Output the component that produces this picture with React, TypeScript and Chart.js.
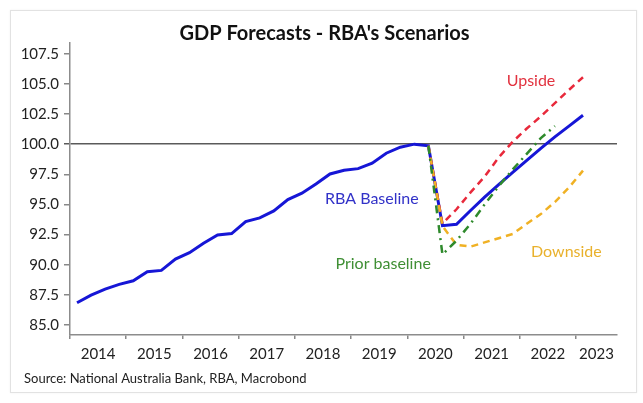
import React, { useEffect, useRef } from "react";
import { Chart, registerables } from "chart.js";

Chart.register(...registerables);

// ---- Data ----
const START_YEAR = 2014; // first quarter plotted: 2014 Q1
const rbaBaseline = [
  86.84, 87.48, 87.98, 88.37, 88.67, 89.42, 89.53, 90.47, 91.0, 91.78,
  92.47, 92.58, 93.57, 93.88, 94.46, 95.4, 95.93, 96.7, 97.53, 97.84,
  97.97, 98.42, 99.25, 99.75, 100.0, 99.86, 93.24, 93.36, 94.5, 95.6,
  96.65, 97.65, 98.65, 99.65, 100.6, 101.5, 102.4,
];
const SCENARIO_START = 25; // quarter index where scenarios branch off
const upside = [99.86, 93.4, 94.6, 96.0, 97.3, 98.9, 100.2, 101.3, 102.3, 103.4, 104.5, 105.55];
const priorBaseline = [99.86, 90.85, 92.0, 93.4, 95.0, 96.5, 97.9, 99.2, 100.5, 101.5];
const downside = [99.86, 93.2, 91.65, 91.5, 91.85, 92.2, 92.55, 93.4, 94.2, 95.2, 96.4, 97.8];

const yearLabels = ["2014", "2015", "2016", "2017", "2018", "2019", "2020", "2021", "2022", "2023"];
const yTicks = [85, 87.5, 90, 92.5, 95, 97.5, 100, 102.5, 105, 107.5];
const REF_LEVEL = 100;

const X_MIN = 2014;
const X_MAX = 2023.73;
const Y_MIN = 84.17;
const Y_MAX = 108.39;

const annotations = [
  { text: "Upside", x: 2022.2, y: 105.26, color: "#e2323f" },
  { text: "RBA Baseline", x: 2019.37, y: 95.46, color: "#3232c8" },
  { text: "Prior baseline", x: 2019.57, y: 90.06, color: "#3f8f34" },
  { text: "Downside", x: 2022.83, y: 91.06, color: "#e9b12c" },
];

const TITLE = "GDP Forecasts - RBA's Scenarios";
const SOURCE = "Source: National Australia Bank, RBA, Macrobond";

// quarter index -> decimal year at mid-quarter
const qx = (i: number) => START_YEAR + 0.125 + 0.25 * i;
const toPoints = (vals: number[], offset: number) =>
  vals.map((v, k) => ({ x: qx(offset + k), y: v }));

const yearTickValues = yearLabels.map((y) => Number(y));
const labelPositions = yearTickValues.map((y) =>
  y + 1 <= X_MAX ? y + 0.5 : (y + X_MAX) / 2
);

const FONT = "Lato, 'Open Sans', sans-serif";

const textPlugin = {
  id: "textPlugin",
  afterDraw(chart: any) {
    const { ctx, scales } = chart;
    ctx.save();
    // title
    ctx.fillStyle = "#111";
    ctx.font = `bold 20px ${FONT}`;
    ctx.textAlign = "center";
    ctx.textBaseline = "alphabetic";
    ctx.fillText(TITLE, 324.5, 40);
    // source
    ctx.fillStyle = "#222";
    ctx.font = `13px ${FONT}`;
    ctx.textAlign = "left";
    ctx.fillText(SOURCE, 24, 383);
    // annotations
    ctx.font = `16px ${FONT}`;
    ctx.textAlign = "center";
    ctx.textBaseline = "middle";
    for (const a of annotations) {
      ctx.fillStyle = a.color;
      ctx.fillText(a.text, scales.x.getPixelForValue(a.x), scales.y.getPixelForValue(a.y));
    }
    ctx.restore();
  },
};

export default function App() {
  const ref = useRef<HTMLCanvasElement | null>(null);

  useEffect(() => {
    if (!ref.current) return;
    const transparent = "rgba(0,0,0,0)";
    const chart = new Chart(ref.current, {
      type: "line",
      data: {
        datasets: [
          {
            label: "Prior baseline",
            data: toPoints(priorBaseline, SCENARIO_START),
            borderColor: "#2f8a2c",
            borderWidth: 2.5,
            borderDash: [8, 5, 2, 5],
            pointRadius: 0,
            fill: false,
          },
          {
            label: "Downside",
            data: toPoints(downside, SCENARIO_START),
            borderColor: "#f0b124",
            borderWidth: 2.5,
            borderDash: [7, 5],
            pointRadius: 0,
            fill: false,
          },
          {
            label: "Upside",
            data: toPoints(upside, SCENARIO_START),
            borderColor: "#e8293b",
            borderWidth: 2.5,
            borderDash: [7, 5],
            pointRadius: 0,
            fill: false,
          },
          {
            label: "RBA Baseline",
            data: toPoints(rbaBaseline, 0),
            borderColor: "#1616d6",
            borderWidth: 3,
            pointRadius: 0,
            fill: false,
          },
        ],
      },
      options: {
        responsive: false,
        animation: false,
        events: [],
        layout: { padding: { top: 43, right: 26, left: 0, bottom: 0 } },
        plugins: {
          legend: { display: false },
          tooltip: { enabled: false },
          title: { display: false },
        },
        scales: {
          x: {
            type: "linear",
            min: X_MIN,
            max: X_MAX,
            afterBuildTicks: (scale: any) => {
              const vals = [...yearTickValues, ...labelPositions].sort((a, b) => a - b);
              scale.ticks = vals.map((v) => ({ value: v }));
            },
            afterFit: (scale: any) => {
              scale.height = 68;
            },
            ticks: {
              autoSkip: false,
              maxRotation: 0,
              padding: 6,
              color: "#222",
              font: { family: FONT, size: 15 },
              callback: (value: any) => {
                const idx = labelPositions.findIndex((p) => Math.abs(p - Number(value)) < 1e-6);
                return idx >= 0 ? yearLabels[idx] : "";
              },
            },
            grid: {
              drawOnChartArea: false,
              tickLength: 4,
              lineWidth: 1.5,
              color: (ctx: any) =>
                ctx.tick && Number.isInteger(ctx.tick.value) ? "#888" : transparent,
              tickColor: (ctx: any) =>
                ctx.tick && Number.isInteger(ctx.tick.value) ? "#888" : transparent,
            },
            border: { display: true, color: "#8c8c8c", width: 1.5 },
          },
          y: {
            type: "linear",
            min: Y_MIN,
            max: Y_MAX,
            afterBuildTicks: (scale: any) => {
              scale.ticks = yTicks.map((v) => ({ value: v }));
            },
            afterFit: (scale: any) => {
              scale.width = 70;
            },
            ticks: {
              padding: 5,
              color: "#222",
              font: { family: FONT, size: 15 },
              callback: (value: any) => Number(value).toFixed(1),
            },
            grid: {
              drawOnChartArea: true,
              tickLength: 6,
              lineWidth: 1.5,
              color: (ctx: any) =>
                ctx.tick && ctx.tick.value === REF_LEVEL ? "#5a5a5a" : transparent,
              tickColor: (ctx: any) =>
                ctx.tick && ctx.tick.value === REF_LEVEL ? "#5a5a5a" : "#888",
            },
            border: { display: true, color: "#8c8c8c", width: 1.5 },
          },
        },
      },
      plugins: [textPlugin],
    });
    return () => chart.destroy();
  }, []);

  return (
    <div style={{ position: "absolute", left: 0, top: 0, width: 643, height: 403, background: "#fff" }}>
      <div
        style={{
          position: "absolute",
          left: 10,
          top: 10,
          width: 625,
          height: 381,
          border: "1px solid #e2e2e2",
          boxShadow: "0 0 2px rgba(0,0,0,0.06)",
        }}
      />
      <canvas
        ref={ref}
        width={643}
        height={403}
        style={{ position: "absolute", left: 0, top: 0, width: 643, height: 403 }}
      />
    </div>
  );
}
